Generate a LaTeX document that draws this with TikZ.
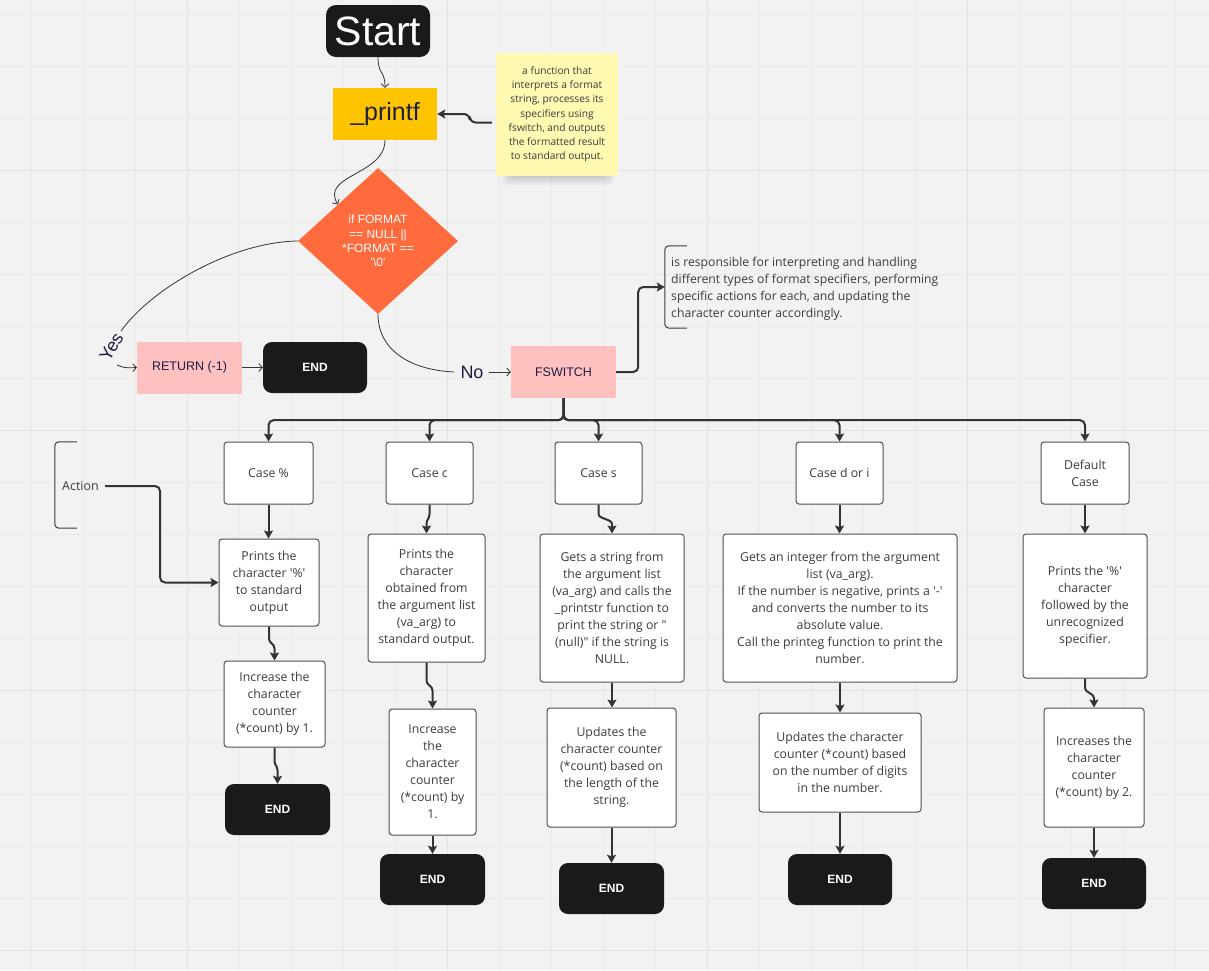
\documentclass[tikz,border=0pt]{standalone}
\usepackage{fontspec}
\newfontfamily\osans{Open Sans}
\newfontfamily\lsans{Liberation Sans}
\usetikzlibrary{shapes.geometric,arrows.meta,calc}
\definecolor{bg}{HTML}{F2F2F2}
\definecolor{gmin}{HTML}{EAEAEA}
\definecolor{gmaj}{HTML}{E2E2E2}
\definecolor{blk}{HTML}{1A1A1A}
\definecolor{ylw}{HTML}{FFC400}
\definecolor{sticky}{HTML}{FFF9B1}
\definecolor{orng}{HTML}{FF6B3D}
\definecolor{pnk}{HTML}{FFC0C0}
\definecolor{navy}{HTML}{1E1E46}
\definecolor{lk}{HTML}{333333}
\definecolor{bline}{HTML}{505050}
\definecolor{txt}{HTML}{3C3C3C}
\newcommand\colJog[2]{\coordinate (jm) at ($(#1.south)!0.5!(#2.north)$);
  \draw[arr, sharp corners] (#1.south) -- ($(#1.south |- jm)+(0,-5)$) .. controls (#1.south |- jm) and (#2.north |- jm) .. ($(#2.north |- jm)+(0,5)$) -- (#2.north);}
\newcommand\colStr[2]{\draw[arr] (#1.south) -- (#1.south |- #2.north);}
\begin{document}
\begin{tikzpicture}[x=1pt,y=-1pt,
  arr/.style={draw=lk, line width=2pt, rounded corners=3pt, -{Stealth[length=8pt,width=9pt,inset=1.5pt]}},
  thinln/.style={draw=lk, line width=0.8pt},
  thinarr/.style={thinln, -{Straight Barb[length=3.5pt,width=8pt]}},
  box/.style={draw=bline, fill=white, rounded corners=3pt, line width=1pt, font=\osans\fontsize{12.3}{17}\selectfont, text=txt, align=center, inner sep=0pt},
  endbox/.style={fill=blk, rounded corners=9pt, text=white, font=\lsans\bfseries\fontsize{12}{14}\selectfont, minimum width=105, minimum height=51, inner sep=0pt},
  pinkbox/.style={fill=pnk, text=navy, font=\lsans\fontsize{12.5}{14}\selectfont, minimum width=105, minimum height=52, inner sep=0pt},
  lbl/.style={text=navy, font=\lsans\fontsize{18}{20}\selectfont, inner sep=0pt},
  bracketln/.style={draw=txt, line width=1pt, rounded corners=4pt},
]
\useasboundingbox (0,0) rectangle (1209,970);
\fill[bg] (0,0) rectangle (1209,970);
\foreach \x in {31,83,...,1209} \draw[gmin, line width=0.8pt] (\x,0) -- (\x,970);
\foreach \y in {14,66,...,970} \draw[gmin, line width=0.8pt] (0,\y) -- (1209,\y);
\foreach \x in {187,447,707,967} \draw[gmaj, line width=1pt] (\x,0) -- (\x,970);
\foreach \y in {170,430,690,950} \draw[gmaj, line width=1pt] (0,\y) -- (1209,\y);

% top nodes
\node[endbox, minimum width=104, minimum height=52, rounded corners=10pt, font=\lsans\fontsize{41}{41}\selectfont] (start) at (378,31) {Start};
\node[fill=ylw, minimum width=104, minimum height=52, inner sep=0pt, text=navy, font=\lsans\fontsize{25}{27}\selectfont] (printf) at (385,114) {\_printf};

% sticky note with shadow
\foreach \i in {0,...,6} {\fill[black, opacity=0.035, rounded corners=6pt] (502+2*\i,150) rectangle (614-2*\i,185-2*\i);}
\node[fill=sticky, minimum width=122, minimum height=123, inner sep=0pt, font=\osans\fontsize{10.2}{14.2}\selectfont, text=txt, align=center] (note1) at (557,114.5) {a function that\\interprets a format\\string, processes its\\specifiers using\\fswitch, and outputs\\the formatted result\\to standard output.};

\node[diamond, fill=orng, minimum width=160, minimum height=146, inner sep=0pt, text=white, font=\lsans\fontsize{12}{14.3}\selectfont, align=center] (dia) at (378,241) {if FORMAT\\== NULL ||\\*FORMAT ==\\\textquotesingle\textbackslash0\textquotesingle};

\node[pinkbox] (ret) at (189.5,367.5) {RETURN (-1)};
\node[endbox, minimum width=104] (end0) at (315,367.5) {END};
\node[pinkbox] (fsw) at (563.5,372) {FSWITCH};

\node[lbl, rotate=60] (yes) at (111.5,347) {Yes};
\node[lbl] (no) at (472,372) {No};
\coordinate (yesB) at (117,365);

% note 2
\node[minimum width=300, minimum height=82, inner sep=0pt] (n2) at (815,287) {};
\draw[bracketln] ([xshift=22pt]n2.north west) -- (n2.north west) -- (n2.south west) -- ([xshift=22pt]n2.south west);
\node[anchor=west, inner sep=0pt, align=left, font=\osans\fontsize{12.2}{17}\selectfont, text=txt] (n2t) at (671,288.5) {is responsible for interpreting and handling\\different types of format specifiers, performing\\specific actions for each, and updating the\\character counter accordingly.};

% action
\node[minimum width=22, minimum height=86, inner sep=0pt] (actb) at (66,485) {};
\draw[bracketln] ([xshift=22pt]actb.north west) -- (actb.north west) -- (actb.south west) -- ([xshift=22pt]actb.south west);
\node[font=\osans\fontsize{12.5}{14}\selectfont, text=txt, inner sep=0pt] (act) at (80.5,486) {Action};

% cases
\node[box, minimum width=89, minimum height=62] (c1) at (268.5,473) {Case \%};
\node[box, minimum width=87, minimum height=62] (c2) at (429.5,473) {Case c};
\node[box, minimum width=87, minimum height=62] (c3) at (598.5,473) {Case s};
\node[box, minimum width=87, minimum height=62] (c4) at (839.5,473) {Case d or i};
\node[box, minimum width=88, minimum height=62] (c5) at (1085,473) {Default\\Case};

\node[box, minimum width=100, minimum height=87] (p1) at (269,582.5) {Prints the\\character \textquotesingle\%\textquotesingle\\to standard\\output};
\node[box, minimum width=117, minimum height=128] (p2) at (426.5,598) {Prints the\\character\\obtained from\\the argument list\\(va\_arg) to\\standard output.};
\node[box, minimum width=144, minimum height=148] (p3) at (612,608) {Gets a string from\\the argument list\\(va\_arg) and calls the\\\_printstr function to\\print the string or "\\(null)" if the string is\\NULL.};
\node[box, minimum width=234, minimum height=148] (p4) at (840,608) {Gets an integer from the argument\\list (va\_arg).\\If the number is negative, prints a \textquotesingle-\textquotesingle\\and converts the number to its\\absolute value.\\Call the printeg function to print the\\number.};
\node[box, minimum width=124, minimum height=144] (p5) at (1085,606) {Prints the \textquotesingle\%\textquotesingle\\character\\followed by the\\unrecognized\\specifier.};

\node[box, minimum width=101, minimum height=86] (i1) at (274.5,704) {Increase the\\character\\counter\\(*count) by 1.};
\node[box, minimum width=87, minimum height=126] (i2) at (432.5,772) {Increase\\the\\character\\counter\\(*count) by\\1.};
\node[box, minimum width=129, minimum height=119] (i3) at (611.5,767.5) {Updates the\\character counter\\(*count) based on\\the length of the\\string.};
\node[box, minimum width=162, minimum height=99] (i4) at (840,762.5) {Updates the character\\counter (*count) based\\on the number of digits\\in the number.};
\node[box, minimum width=100, minimum height=119] (i5) at (1094,767.5) {Increases the\\character\\counter\\(*count) by 2.};

\node[endbox] (e1) at (277.5,809.5) {END};
\node[endbox] (e2) at (432.5,879.5) {END};
\node[endbox] (e3) at (611.5,888.5) {END};
\node[endbox, minimum width=104] (e4) at (840,879.5) {END};
\node[endbox, minimum width=104] (e5) at (1094,883.5) {END};

% connectors
\draw[thinarr] (start.south) .. controls (378,75) and (385,70) .. (printf.north);
\draw[arr, rounded corners=6pt] ([shift={(-4pt,-8pt)}]note1.west) -- ++(-22,0) |- (printf.east);
\draw[thinarr] (printf.south) .. controls (385,175) and (320,175) .. (dia.north west);
\draw[thinln] (dia.west) .. controls (230,242) and (150,290) .. ([shift={(2pt,3pt)}]yes.east);
\draw[thinarr] (yesB) .. controls (125,368) .. (ret.west);
\draw[thinarr] (ret.east) -- (end0.west);
\draw[thinln] (dia.south) .. controls (378,350) and (410,370) .. ([xshift=-6pt]no.west);
\draw[thinarr] ([xshift=5pt]no.east) -- (fsw.west);
\draw[arr, rounded corners=5pt] (fsw.east) -- ++(22,0) |- (n2.west);

\coordinate (bus) at ($(fsw.south)+(0,22)$);
\foreach \c in {c1,c2,c3,c4,c5} {\draw[arr, rounded corners=5pt] (fsw.south) -- (bus) -| (\c.north);}

\draw[arr, rounded corners=5pt] ([xshift=6pt]act.east) -- ++(55,0) |- (p1.west);

\colStr{c1}{p1}
\colJog{p1}{i1}
\colJog{i1}{e1}
\colJog{c2}{p2}
\colJog{p2}{i2}
\colStr{i2}{e2}
\colJog{c3}{p3}
\colStr{p3}{i3}
\colStr{i3}{e3}
\colStr{c4}{p4}
\colStr{p4}{i4}
\colStr{i4}{e4}
\colStr{c5}{p5}
\colJog{p5}{i5}
\colStr{i5}{e5}
\end{tikzpicture}
\end{document}
